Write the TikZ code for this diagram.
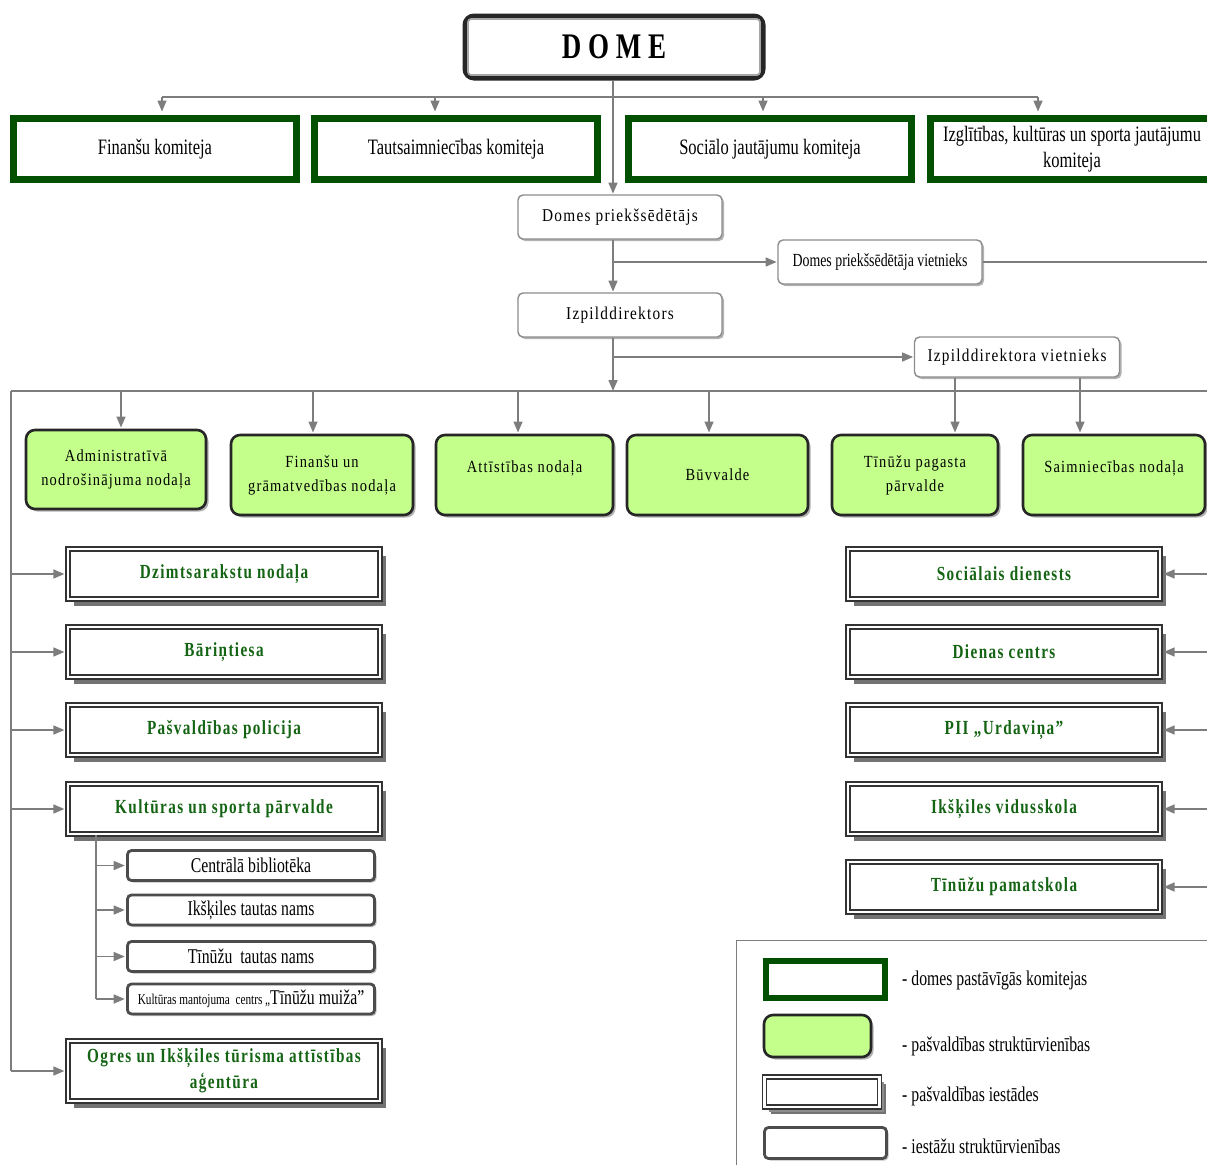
\documentclass[tikz,border=0pt]{standalone}
\usepackage{fontspec}
\setmainfont{Liberation Serif}
\newfontfamily\condf[FakeStretch=0.75]{Liberation Serif}
\newfontfamily\spf[FakeStretch=0.85,LetterSpace=7]{Liberation Serif}
\newfontfamily\instf[FakeStretch=0.76,LetterSpace=7]{Liberation Serif}
\usetikzlibrary{arrows.meta,shadows}
\definecolor{cgreen}{RGB}{0,80,0}
\definecolor{lgreen}{RGB}{196,255,140}
\definecolor{tgreen}{RGB}{20,100,20}
\definecolor{arrgray}{RGB}{125,125,125}
\tikzset{
  ln/.style={draw=arrgray, line width=1.5pt},
  arr/.style={draw=arrgray, line width=1.5pt, -{Triangle[length=11pt,width=9pt]}},
  domebox/.style={rounded corners=9pt, draw=black!85, line width=5pt, fill=white,
    minimum width=298pt, minimum height=62pt, inner sep=0pt,
    font=\condf\bfseries\fontsize{36}{36}\selectfont},
  comm/.style={draw=cgreen, line width=7pt, fill=white, minimum width=283pt,
    minimum height=61pt, inner sep=0pt, align=center,
    font=\condf\fontsize{22}{26}\selectfont},
  mgr/.style={rounded corners=5pt, draw=black!45, line width=1.4pt, fill=white,
    minimum width=204pt, minimum height=44pt, inner sep=0pt,
    drop shadow={shadow xshift=2pt, shadow yshift=-2pt, fill=black!30, opacity=1},
    font=\spf\fontsize{18}{20}\selectfont},
  unit/.style={rounded corners=9pt, draw=black!85, line width=2.6pt, fill=lgreen,
    inner sep=0pt, align=center,
    drop shadow={shadow xshift=2.5pt, shadow yshift=-2.5pt, fill=black!30, opacity=1},
    font=\spf\fontsize{17}{24}\selectfont},
  inst/.style={draw=black!80, double=white, double distance=2.2pt, line width=1.7pt,
    fill=white, minimum width=312pt, minimum height=50pt, inner sep=0pt, align=center,
    drop shadow={shadow xshift=6pt, shadow yshift=-6.5pt, fill=black!55, opacity=1},
    text=tgreen, font=\instf\bfseries\fontsize{20}{26}\selectfont},
  sub/.style={rounded corners=4pt, draw=black!70, line width=2.8pt, fill=white,
    minimum width=247pt, minimum height=30pt, inner sep=0pt,
    drop shadow={shadow xshift=2pt, shadow yshift=-2pt, fill=black!25, opacity=1},
    font=\condf\fontsize{21}{22}\selectfont},
  legt/.style={anchor=west, inner sep=0pt, font=\condf\fontsize{21}{22}\selectfont}
}
\begin{document}
\begin{tikzpicture}[x=1pt,y=-1pt]
\useasboundingbox (0,0) rectangle (1207,1165);
\clip (0,0) rectangle (1207,1165);
\fill[white] (0,0) rectangle (1207,1165);

% DOME
\node[domebox] (dome) at (614,47) {D O M E};
\draw[gray!70, line width=1.6pt, rounded corners=3pt]
  ([shift={(5.5,5.5)}]dome.north west) rectangle ([shift={(-5.5,-5.5)}]dome.south east);

% committees
\node[comm] (fk) at (155,149) {Finanšu komiteja};
\node[comm] (tk) at (456,149) {Tautsaimniecības komiteja};
\node[comm] (sk) at (770,149) {Sociālo jautājumu komiteja};
\node[comm] (ik) at (1072,149) {Izglītības, kultūras un sporta jautājumu\\komiteja};

\coordinate (bA) at (162,97);
\coordinate (bB) at (435,97);
\coordinate (bC) at (763,97);
\coordinate (bD) at (1038,97);
\draw[ln] (bA) -- (bD);
\draw[arr, shorten >=3.5pt] (bA) -- (bA |- fk.north);
\draw[arr, shorten >=3.5pt] (bB) -- (bB |- tk.north);
\draw[arr, shorten >=3.5pt] (bC) -- (bC |- sk.north);
\draw[arr, shorten >=3.5pt] (bD) -- (bD |- ik.north);

% managers
\node[mgr] (dp) at (620,217) {Domes priekšsēdētājs};
\node[mgr, font=\condf\fontsize{18.5}{20}\selectfont] (dpv) at (880,262) {Domes priekšsēdētāja vietnieks};
\node[mgr] (iz) at (620,315) {Izpilddirektors};
\node[mgr, minimum width=205pt, minimum height=40pt] (izv) at (1017,357) {Izpilddirektora vietnieks};

\coordinate (m1) at (613,0);
\coordinate (rE) at (1207,0);
\draw[arr, shorten >=0.7pt] (dome.south -| m1) -- (dp.north -| m1);
\draw[arr, shorten >=0.7pt] (dp.south -| m1) -- (iz.north -| m1);
\draw[arr, shorten >=0.7pt] (m1 |- dpv.west) -- (dpv.west);
\draw[ln] (dpv.east) -- (dpv.east -| rE);
\coordinate (bus2) at (613,391);
\draw[arr] (iz.south -| m1) -- (bus2);
\draw[arr, shorten >=0.7pt] (m1 |- izv.west) -- (izv.west);

% structural units
\node[unit, minimum width=180pt, minimum height=79pt] (adm) at (116,469.5) {Administratīvā\\nodrošinājuma nodaļa};
\node[unit, minimum width=182pt, minimum height=80pt] (fgn) at (322,475) {Finanšu un\\grāmatvedības nodaļa};
\node[unit, minimum width=177pt, minimum height=80pt] (att) at (524.5,475) {Attīstības nodaļa\\[-8pt]};
\node[unit, minimum width=181pt, minimum height=80pt] (buv) at (717.5,475) {Būvvalde};
\node[unit, minimum width=166pt, minimum height=80pt] (tin) at (915,475) {Tīnūžu pagasta\\pārvalde};
\node[unit, minimum width=182pt, minimum height=80pt] (saim) at (1114,475) {Saimniecības nodaļa\\[-8pt]};

\coordinate (L) at (11,391);
\draw[ln] (L) -- (bus2 -| rE);
\coordinate (d1) at (121,391);
\coordinate (d2) at (313,391);
\coordinate (d3) at (518,391);
\coordinate (d4) at (709,391);
\coordinate (d5) at (955,0);
\coordinate (d6) at (1080,0);
\draw[arr, shorten >=1.2pt] (d1) -- (d1 |- adm.north);
\draw[arr, shorten >=1.2pt] (d2) -- (d2 |- fgn.north);
\draw[arr, shorten >=1.2pt] (d3) -- (d3 |- att.north);
\draw[arr, shorten >=1.2pt] (d4) -- (d4 |- buv.north);
\draw[arr, shorten >=1.2pt] (izv.south -| d5) -- (tin.north -| d5);
\draw[arr, shorten >=1.2pt] (izv.south -| d6) -- (saim.north -| d6);

% institutions left
\node[inst] (dz) at (224,574) {Dzimtsarakstu nodaļa};
\node[inst] (bar) at (224,652) {Bāriņtiesa};
\node[inst] (pol) at (224,730) {Pašvaldības policija};
\node[inst] (kul) at (224,809) {Kultūras un sporta pārvalde};
\node[inst, minimum height=60pt] (ogr) at (224,1071) {Ogres un Ikšķiles tūrisma attīstības\\aģentūra};

\draw[ln] (L) -- (L |- ogr.west);
\draw[arr, shorten >=2.8pt] (L |- dz.west) -- (dz.west);
\draw[arr, shorten >=2.8pt] (L |- bar.west) -- (bar.west);
\draw[arr, shorten >=2.8pt] (L |- pol.west) -- (pol.west);
\draw[arr, shorten >=2.8pt] (L |- kul.west) -- (kul.west);
\draw[arr, shorten >=2.8pt] (L |- ogr.west) -- (ogr.west);

% institutions right
\node[inst] (soc) at (1004,574) {Sociālais dienests};
\node[inst] (dc) at (1004,652) {Dienas centrs};
\node[inst] (pii) at (1004,730) {PII „Urdaviņa”};
\node[inst] (ikv) at (1004,809) {Ikšķiles vidusskola};
\node[inst] (tpm) at (1004,887) {Tīnūžu pamatskola};
\draw[arr, shorten >=2.8pt] (soc.east -| rE) -- (soc.east);
\draw[arr, shorten >=2.8pt] (dc.east -| rE) -- (dc.east);
\draw[arr, shorten >=2.8pt] (pii.east -| rE) -- (pii.east);
\draw[arr, shorten >=2.8pt] (ikv.east -| rE) -- (ikv.east);
\draw[arr, shorten >=2.8pt] (tpm.east -| rE) -- (tpm.east);

% sub-units
\node[sub] (cb) at (251,865.5) {Centrālā bibliotēka};
\node[sub] (itn) at (251,910) {Ikšķiles tautas nams};
\node[sub] (ttn) at (251,956.5) {Tīnūžu\ \ tautas nams};
\node[sub] (kmc) at (251,999) {{\fontsize{15}{16}\selectfont Kultūras mantojuma\ \ centrs „}Tīnūžu muiža”};
\coordinate (sv) at (96,0);
\draw[ln] (kul.south -| sv) -- (kmc.west -| sv);
\draw[arr, shorten >=1.4pt] (cb.west -| sv) -- (cb.west);
\draw[arr, shorten >=1.4pt] (itn.west -| sv) -- (itn.west);
\draw[arr, shorten >=1.4pt] (ttn.west -| sv) -- (ttn.west);
\draw[arr, shorten >=1.4pt] (kmc.west -| sv) -- (kmc.west);

% legend
\coordinate (lgA) at (1207,940);
\coordinate (lgB) at (736,940);
\coordinate (lgC) at (736,1165);
\draw[draw=arrgray, line width=1pt] (lgA) -- (lgB) -- (lgC);
\node[comm, minimum width=119pt, minimum height=37pt, line width=6pt] (lg1) at (825.5,979.5) {};
\node[unit, minimum width=107pt, minimum height=42pt] (lg2) at (817.5,1036) {};
\node[inst, minimum width=115pt, minimum height=30pt, drop shadow={shadow xshift=4.5pt, shadow yshift=-4.5pt, fill=black!45, opacity=1}] (lg3) at (822,1092) {};
\node[sub, minimum width=122pt, minimum height=31pt] (lg4) at (825.5,1143) {};
\node[legt] (lt1) at (902,980) {- domes pastāvīgās komitejas};
\node[legt] (lt2) at (902,1046) {- pašvaldības struktūrvienības};
\node[legt] (lt3) at (902,1096) {- pašvaldības iestādes};
\node[legt] (lt4) at (902,1146) {- iestāžu struktūrvienības};
\end{tikzpicture}
\end{document}
